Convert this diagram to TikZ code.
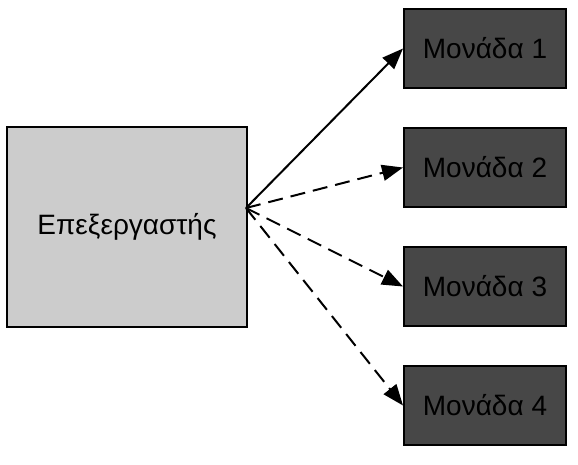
\documentclass[tikz,border=0pt]{standalone}
\usepackage{fontspec}
\setmainfont{Liberation Sans}
\usetikzlibrary{arrows.meta,positioning}

\begin{document}
\begin{tikzpicture}[x=1pt,y=-1pt,
    procbox/.style={draw=black, line width=2pt, fill=gray!40, minimum width=240pt, minimum height=200pt, font=\fontsize{28}{32}\selectfont},
    unitbox/.style={draw=black, line width=2pt, fill=black!72, minimum width=162pt, minimum height=79pt, font=\fontsize{28}{32}\selectfont},
    link/.style={line width=2pt, -{Triangle[length=21pt,width=16pt]}}]
  \useasboundingbox (0,0) rectangle (578,464);

  \node[procbox] (proc) at (127,227) {Επεξεργαστής};
  \coordinate (src) at (246,208);

  \node[unitbox] (m1) at (485,48.5) {Μονάδα 1};
  \node[unitbox] (m2) at (485,167.5) {Μονάδα 2};
  \node[unitbox] (m3) at (485,286.5) {Μονάδα 3};
  \node[unitbox] (m4) at (485,405.5) {Μονάδα 4};

  \draw[link] (src) -- (m1.west);
  \draw[link, dash pattern=on 15pt off 8pt] (src) -- (m2.west);
  \draw[link, dash pattern=on 15pt off 8pt] (src) -- (m3.west);
  \draw[link, dash pattern=on 15pt off 8pt] (src) -- (m4.west);
\end{tikzpicture}
\end{document}
